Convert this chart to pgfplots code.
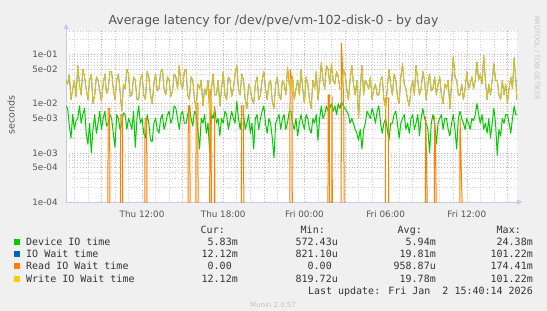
\documentclass[border=0pt]{standalone}
\usepackage{pgfplots}
\usepackage{pgfplotstable}
\pgfplotsset{compat=1.18}
\usepackage{fontspec}
\setmainfont{DejaVu Sans}
\newfontfamily\monofont{DejaVu Sans Mono}
\usetikzlibrary{arrows.meta}
\definecolor{bgc}{HTML}{F0F0F0}
\definecolor{cgreen}{HTML}{00CC00}
\definecolor{cblue}{HTML}{0066B3}
\definecolor{corange}{HTML}{FF8000}
\definecolor{cyellow}{HTML}{FFCC00}
\definecolor{mgrid}{HTML}{EBAAAA}
\definecolor{ngrid}{HTML}{D0D0D0}
\definecolor{axc}{HTML}{C8C8EE}
\definecolor{txt}{HTML}{555555}
\definecolor{legtxt}{HTML}{333333}
\definecolor{faint}{HTML}{C4C4C4}

\pgfplotstableread{
h dev wr
-17.62 0.009 0.030
-17.5 0.008 0.025
-17.375 0.0035 0.040
-17.25 0.002 0.012
-17.125 0.006 0.020
-17.0 0.003 0.030
-16.875 0.0045 0.014
-16.75 0.005 0.060
-16.625 0.009 0.025
-16.5 0.004 0.015
-16.375 0.006 0.050
-16.25 0.008 0.035
-16.125 0.0025 0.020
-16.0 0.0015 0.012
-15.875 0.004 0.030
-15.75 0.001 0.040
-15.625 0.003 0.010
-15.5 0.006 0.015
-15.375 0.0025 0.035
-15.25 0.004 0.030
-15.125 0.007 0.018
-15.0 0.003 0.011
-14.875 0.005 0.025
-14.75 0.007 0.040
-14.625 0.0035 0.016
-14.5 0.004 0.020
-14.375 0.006 0.045
-14.25 0.005 0.045
-14.125 0.0025 0.020
-14.0 0.0013 0.012
-13.875 0.006 0.030
-13.75 0.005 0.040
-13.625 0.003 0.018
-13.5 0.004 0.007
-13.375 0.0065 0.025
-13.25 0.006 0.020
-13.125 0.003 0.050
-13.0 0.005 0.040
-12.875 0.004 0.014
-12.75 0.003 0.015
-12.625 0.007 0.035
-12.5 0.0013 0.030
-12.375 0.005 0.012
-12.25 0.009 0.012
-12.125 0.004 0.030
-12.0 0.005 0.040
-11.875 0.0025 0.015
-11.75 0.002 0.012
-11.625 0.006 0.045
-11.5 0.004 0.035
-11.375 0.0018 0.015
-11.25 0.0017 0.010
-11.125 0.004 0.025
-11.0 0.005 0.040
-10.875 0.003 0.018
-10.75 0.0025 0.020
-10.625 0.005 0.045
-10.5 0.006 0.050
-10.375 0.003 0.020
-10.25 0.004 0.015
-10.125 0.006 0.035
-10.0 0.007 0.030
-9.875 0.004 0.014
-9.75 0.005 0.018
-9.625 0.009 0.040
-9.5 0.008 0.035
-9.375 0.005 0.020
-9.25 0.003 0.060
-9.125 0.006 0.025
-9.0 0.007 0.020
-8.875 0.004 0.045
-8.75 0.004 0.050
-8.625 0.006 0.015
-8.5 0.009 0.012
-8.375 0.005 0.035
-8.25 0.0035 0.030
-8.125 0.007 0.012
-8.0 0.006 0.008
-7.875 0.003 0.025
-7.75 0.0012 0.020
-7.625 0.005 0.030
-7.5 0.004 0.009
-7.375 0.006 0.020
-7.25 0.0025 0.015
-7.125 0.004 0.030
-7.0 0.001 0.006
-6.875 0.006 0.020
-6.75 0.005 0.040
-6.625 0.008 0.015
-6.5 0.004 0.015
-6.375 0.005 0.030
-6.25 0.0022 0.009
-6.125 0.005 0.020
-6.0 0.004 0.045
-5.875 0.007 0.015
-5.75 0.006 0.012
-5.625 0.003 0.035
-5.5 0.0045 0.030
-5.375 0.007 0.014
-5.25 0.005 0.020
-5.125 0.004 0.040
-5.0 0.011 0.060
-4.875 0.005 0.020
-4.75 0.003 0.015
-4.625 0.006 0.040
-4.5 0.006 0.030
-4.375 0.003 0.012
-4.25 0.004 0.008
-4.125 0.006 0.025
-4.0 0.0025 0.020
-3.875 0.004 0.012
-3.75 0.0012 0.010
-3.625 0.005 0.025
-3.5 0.006 0.035
-3.375 0.003 0.012
-3.25 0.005 0.015
-3.125 0.007 0.030
-3.0 0.009 0.045
-2.875 0.004 0.020
-2.75 0.0025 0.012
-2.625 0.005 0.025
-2.5 0.004 0.030
-2.375 0.002 0.011
-2.25 0.0008 0.008
-2.125 0.004 0.025
-2.0 0.005 0.035
-1.875 0.006 0.015
-1.75 0.003 0.012
-1.625 0.005 0.030
-1.5 0.006 0.025
-1.375 0.003 0.015
-1.25 0.004 0.055
-1.125 0.007 0.025
-1.0 0.007 0.020
-0.875 0.004 0.035
-0.75 0.003 0.012
-0.625 0.005 0.020
-0.5 0.0022 0.030
-0.375 0.004 0.015
-0.25 0.006 0.050
-0.125 0.004 0.020
0.0 0.003 0.010
0.125 0.006 0.035
0.25 0.005 0.025
0.375 0.003 0.012
0.5 0.0025 0.008
0.625 0.005 0.030
0.75 0.004 0.020
0.875 0.006 0.045
1.0 0.0018 0.012
1.125 0.005 0.025
1.25 0.009 0.070
1.375 0.005 0.030
1.5 0.006 0.020
1.625 0.009 0.060
1.75 0.007 0.050
1.875 0.008 0.025
2.0 0.010 0.065
2.125 0.007 0.030
2.25 0.009 0.025
2.375 0.006 0.045
2.5 0.010 0.035
2.625 0.008 0.020
2.75 0.011 0.020
2.875 0.009 0.050
3.0 0.008 0.040
3.125 0.007 0.020
3.25 0.006 0.012
3.375 0.004 0.030
3.5 0.005 0.060
3.625 0.004 0.025
3.75 0.003 0.015
3.875 0.0025 0.030
4.0 0.0018 0.005
4.125 0.003 0.020
4.25 0.0012 0.060
4.375 0.003 0.015
4.5 0.004 0.030
4.625 0.007 0.025
4.75 0.006 0.020
4.875 0.005 0.035
5.0 0.008 0.012
5.125 0.006 0.020
5.25 0.004 0.025
5.375 0.007 0.015
5.5 0.009 0.015
5.625 0.004 0.030
5.75 0.0025 0.035
5.875 0.004 0.012
6.0 0.005 0.008
6.125 0.003 0.020
6.25 0.0018 0.050
6.375 0.004 0.025
6.5 0.004 0.015
6.625 0.006 0.040
6.75 0.007 0.030
6.875 0.004 0.014
7.0 0.002 0.010
7.125 0.004 0.035
7.25 0.005 0.065
7.375 0.006 0.025
7.5 0.003 0.020
7.625 0.004 0.012
7.75 0.0025 0.009
7.875 0.005 0.020
8.0 0.006 0.030
8.125 0.003 0.015
8.25 0.004 0.060
8.375 0.006 0.030
8.5 0.0022 0.015
8.625 0.005 0.020
8.75 0.008 0.045
8.875 0.005 0.030
9.0 0.004 0.012
9.125 0.003 0.025
9.25 0.001 0.040
9.375 0.004 0.018
9.5 0.006 0.020
9.625 0.004 0.035
9.75 0.0015 0.015
9.875 0.004 0.025
10.0 0.005 0.035
10.125 0.006 0.015
10.25 0.003 0.010
10.375 0.005 0.025
10.5 0.005 0.020
10.625 0.003 0.030
10.75 0.0022 0.008
10.875 0.004 0.025
11.0 0.006 0.090
11.125 0.003 0.035
11.25 0.0012 0.030
11.375 0.005 0.015
11.5 0.007 0.015
11.625 0.005 0.025
11.75 0.004 0.012
11.875 0.003 0.020
12.0 0.005 0.045
12.125 0.004 0.020
12.25 0.003 0.025
12.375 0.005 0.035
12.5 0.0045 0.020
12.625 0.006 0.030
12.75 0.010 0.070
12.875 0.006 0.030
13.0 0.004 0.040
13.125 0.006 0.025
13.25 0.003 0.095
13.375 0.004 0.030
13.5 0.0025 0.012
13.625 0.005 0.025
13.75 0.002 0.015
13.875 0.004 0.030
14.0 0.008 0.065
14.125 0.004 0.030
14.25 0.0009 0.030
14.375 0.003 0.015
14.5 0.0022 0.012
14.625 0.005 0.030
14.75 0.004 0.015
14.875 0.006 0.025
15.0 0.006 0.010
15.125 0.004 0.020
15.25 0.0025 0.035
15.375 0.005 0.020
15.5 0.009 0.085
15.625 0.006 0.030
15.7 0.0058 0.012
}\lat

\begin{document}
\begin{tikzpicture}[x=1pt,y=1pt]
\fill[bgc] (0,0) rectangle (547,311);
\useasboundingbox (0,0) rectangle (547,311);
\begin{axis}[
  at={(66pt,109pt)}, anchor=south west,
  scale only axis, width=451pt, height=171pt,
  ymode=log, xmin=-17.62, xmax=15.71, ymin=1e-4, ymax=0.3,
  axis background/.style={fill=white},
  axis lines=left,
  axis line style={draw=axc, line width=0.9pt, -{Triangle[length=5pt,width=5pt]}},
  x axis line style={shorten >=-5pt},
  y axis line style={shorten >=-7pt},
  xtick={-15,-12,...,15},
  xticklabels={,Thu 12:00,,Thu 18:00,,Fri 00:00,,Fri 06:00,,Fri 12:00,},
  minor xtick={-17,-16,-14,-13,-11,-10,-8,-7,-5,-4,-2,-1,1,2,4,5,7,8,10,11,13,14},
  ytick={1e-4,5e-4,1e-3,5e-3,1e-2,5e-2,1e-1},
  yticklabels={1e-04,5e-04,1e-03,5e-03,1e-02,5e-02,1e-01},
  minor ytick={2e-4,3e-4,4e-4,6e-4,7e-4,8e-4,9e-4,2e-3,3e-3,4e-3,6e-3,7e-3,8e-3,9e-3,2e-2,3e-2,4e-2,6e-2,7e-2,8e-2,9e-2,2e-1,3e-1},
  grid=both,
  major grid style={draw=mgrid, line width=0.6pt, dash pattern=on 1pt off 1.8pt},
  minor grid style={draw=ngrid, line width=0.6pt, dash pattern=on 1pt off 1.8pt},
  tick style={draw=none},
  tick label style={font=\fontsize{8.8}{10}\selectfont, text=txt},
  yticklabel style={inner sep=0pt, xshift=-6pt},
  xticklabel style={inner sep=0pt, yshift=-6pt},
  no markers,
  clip=true,
]
\addplot[cgreen, line width=1pt, line join=round] table[x=h,y=dev]{\lat};
\addplot[cblue, line width=0.8pt, line join=round] table[x=h,y=wr]{\lat};
\addplot[corange, line width=1pt] coordinates {
(-17.62,1e-6)
(-14.56,1e-6)(-14.5,0.008)(-14.4,0.008)(-14.34,1e-6)
(-13.62,1e-6)(-13.57,0.006)(-13.45,0.006)(-13.4,1e-6)
(-11.82,1e-6)(-11.78,0.005)(-11.66,0.005)(-11.62,1e-6)
(-8.62,1e-6)(-8.58,0.009)(-8.47,0.009)(-8.43,1e-6)
(-8.05,1e-6)(-8.0,0.010)(-7.88,0.010)(-7.84,1e-6)
(-7.02,1e-6)(-6.98,0.02)(-6.9,0.012)(-6.86,1e-6)
(-6.68,1e-6)(-6.64,0.009)(-6.6,1e-6)
(-4.68,1e-6)(-4.64,0.009)(-4.5,0.009)(-4.46,1e-6)
(-1.1,1e-6)(-1.06,0.05)(-0.92,0.03)(-0.88,1e-6)
(1.72,1e-6)(1.76,0.015)(1.84,0.015)(1.88,1e-6)
(2.0,1e-6)(2.04,0.014)(2.08,1e-6)
(2.7,1e-6)(2.74,0.17)(2.9,0.012)(2.98,1e-6)
(5.96,1e-6)(6.0,0.013)(6.2,0.013)(6.24,1e-6)
(8.92,1e-6)(8.96,0.0055)(9.06,0.0002)(9.1,1e-6)
(9.58,1e-6)(9.62,0.0055)(9.72,0.00035)(9.78,1e-6)
(11.46,1e-6)(11.5,0.005)(11.62,0.0002)(11.9,1e-6)
(15.7,1e-6)
};
\addplot[cyellow, line width=0.9pt, line join=round, opacity=0.88] table[x=h,y=wr]{\lat};
\end{axis}
% title and labels
\node[text=txt, font=\fontsize{12.5}{14}\selectfont] at (273.5,290) {Average latency for /dev/pve/vm-102-disk-0 - by day};
\node[rotate=90, text=txt, font=\fontsize{9.5}{11}\selectfont] at (11,196) {seconds};
\node[rotate=-90, text=faint, font=\fontsize{6.5}{8}\selectfont] at (537,253) {RRDTOOL / TOBI OETIKER};
% legend
\begin{scope}[every node/.style={text=legtxt, font=\monofont\fontsize{10}{11}\selectfont, inner sep=0pt}]
\node[anchor=mid east] at (225,80) {Cur:};
\node[anchor=mid east] at (325,80) {Min:};
\node[anchor=mid east] at (422,80) {Avg:};
\node[anchor=mid east] at (521,80) {Max:};
\fill[cgreen] (14,65.5) rectangle (20,71.5);
\node[anchor=mid west] at (26,68) {Device IO time};
\node[anchor=mid east] at (238,68) {5.83m};
\node[anchor=mid east] at (338,68) {572.43u};
\node[anchor=mid east] at (436,68) {5.94m};
\node[anchor=mid east] at (533,68) {24.38m};
\fill[cblue] (14,53.5) rectangle (20,59.5);
\node[anchor=mid west] at (26,56) {IO Wait time};
\node[anchor=mid east] at (238,56) {12.12m};
\node[anchor=mid east] at (338,56) {821.10u};
\node[anchor=mid east] at (436,56) {19.81m};
\node[anchor=mid east] at (533,56) {101.22m};
\fill[corange] (14,41.5) rectangle (20,47.5);
\node[anchor=mid west] at (26,44) {Read IO Wait time};
\node[anchor=mid east] at (238,44) {0.00\hphantom{m}};
\node[anchor=mid east] at (338,44) {0.00\hphantom{m}};
\node[anchor=mid east] at (436,44) {958.87u};
\node[anchor=mid east] at (533,44) {174.41m};
\fill[cyellow] (14,29) rectangle (20,35);
\node[anchor=mid west] at (26,31.5) {Write IO Wait time};
\node[anchor=mid east] at (238,31.5) {12.12m};
\node[anchor=mid east] at (338,31.5) {819.72u};
\node[anchor=mid east] at (436,31.5) {19.78m};
\node[anchor=mid east] at (533,31.5) {101.22m};
\node[anchor=mid east] at (533,19) {Last update: Fri Jan\ \ 2 15:40:14 2026};
\end{scope}
\node[text=faint, font=\fontsize{7}{8}\selectfont] at (273,6) {Munin 2.0.57};
\end{tikzpicture}
\end{document}
